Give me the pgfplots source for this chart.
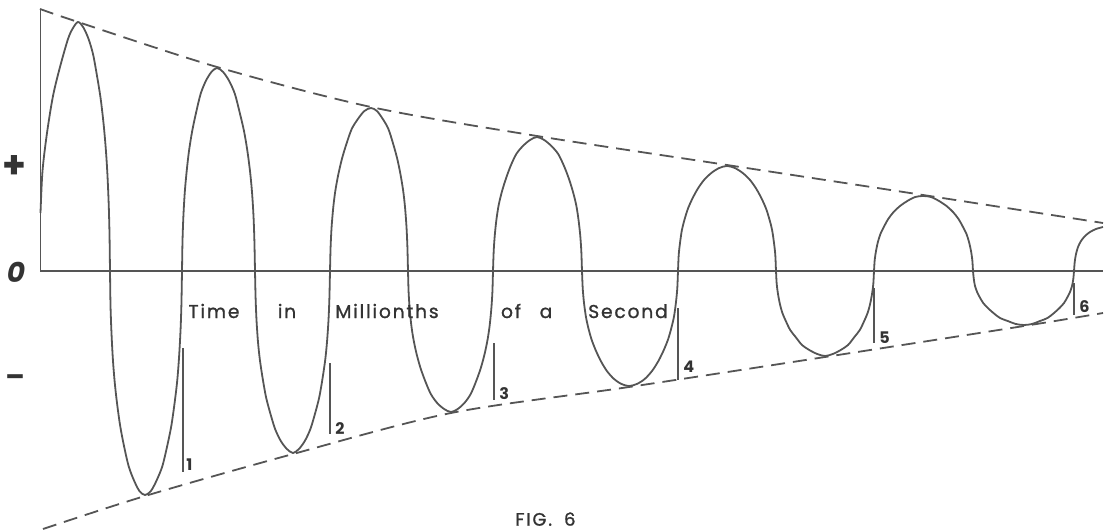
\documentclass[border=0pt]{standalone}
\usepackage{pgfplots}
\pgfplotsset{compat=1.18}
\usepackage{fontspec}
\setmainfont{Poppins}
\newfontfamily\lab[LetterSpace=10, FakeBold=1.2]{Poppins}
\definecolor{ink}{HTML}{555555}
\definecolor{txt}{HTML}{333333}

\begin{document}
\begin{tikzpicture}
\begin{axis}[
  scale only axis,
  width=559pt, height=265.5pt,
  xmin=0, xmax=1118, ymin=-260, ymax=271,
  hide axis, clip=false,
]
% axes
\addplot[ink, line width=0.9pt] coordinates {(40.5,262) (40.5,0) (1103,0)};

% envelopes
\addplot[ink, line width=0.9pt, dash pattern=on 7pt off 4pt, smooth] coordinates {
  (40,262) (78,249) (217,204) (371,164) (537,135) (727,106) (923,76) (1103,48)
};
\addplot[ink, line width=0.9pt, dash pattern=on 7pt off 4pt, smooth] coordinates {
  (43,-258) (145,-225) (293,-183) (451,-142) (629,-116) (825,-86) (1024,-55) (1103,-42)
};

% the damped wave
\addplot[ink, line width=0.9pt, smooth, tension=0.5] coordinates {
  (40.5,58) (42.5,100) (47,138) (53,175) (60,204) (68,232) (73,243) (78,249)
  (83.1,244) (88.2,233) (93,217) (97.2,194) (100.7,172) (103.6,147) (105.8,122) (107.4,97) (108.7,67) (109.5,37) (110,0)
  (110.5,-34) (111.4,-60) (112.8,-87) (114.6,-110) (117,-132) (120.2,-155) (124,-175) (128.6,-195) (133.8,-209) (139.4,-220) (145,-224)
  (150.9,-220) (156.8,-209) (162.4,-195) (167.2,-175) (171.3,-155) (174.6,-132) (177.2,-110) (179,-87) (180.5,-60) (181.4,-34) (182,0)
  (182.5,30) (183.4,55) (184.8,79) (186.6,99) (189,120) (192.2,140) (196,158) (200.6,177) (205.8,190) (211.4,199) (217,203)
  (223.1,199) (229.2,190) (234.9,177) (239.8,158) (244,140) (247.4,120) (250.1,99) (252,79) (253.5,55) (254.4,30) (255,0)
  (255.6,-27) (256.5,-49) (258,-71) (259.9,-89) (262.6,-107) (266,-126) (270.2,-142) (275.1,-158) (280.8,-170) (286.9,-178) (293,-182)
  (298.9,-178) (304.8,-170) (310.4,-158) (315.2,-142) (319.3,-126) (322.6,-107) (325.2,-89) (327,-71) (328.5,-49) (329.4,-27) (330,0)
  (330.6,24) (331.6,44) (333.3,64) (335.3,80) (338.2,96) (341.9,112) (346.4,127) (351.7,142) (357.9,152) (364.4,160) (371,163)
  (376.9,160) (382.8,152) (388.4,142) (393.2,127) (397.3,112) (400.6,96) (403.2,80) (405,64) (406.5,44) (407.4,24) (408,0)
  (408.6,-21) (409.7,-38) (411.4,-55) (413.6,-69) (416.6,-83) (420.5,-97) (425.2,-110) (430.8,-123) (437.2,-132) (444.1,-138) (451,-141)
  (457.7,-138) (464.4,-132) (470.7,-123) (476.2,-110) (480.8,-97) (484.6,-83) (487.5,-69) (489.6,-55) (491.3,-38) (492.4,-21) (493,0)
  (493.7,20) (494.8,36) (496.5,52) (498.7,66) (501.8,79) (505.8,92) (510.6,105) (516.3,117) (522.9,125) (530,131) (537,134)
  (544.2,131) (551.4,125) (558.2,117) (564,105) (569,92) (573,79) (576.2,66) (578.4,52) (580.2,36) (581.3,20) (582,0)
  (582.7,-17) (583.9,-31) (585.8,-45) (588.1,-56) (591.4,-68) (595.6,-79) (600.8,-90) (606.9,-100) (614,-108) (621.5,-113) (629,-115)
  (636.8,-113) (644.7,-108) (652,-100) (658.4,-90) (663.8,-79) (668.2,-68) (671.6,-56) (674.1,-45) (676,-31) (677.3,-17) (678,0)
  (678.7,16) (680,28) (681.9,41) (684.4,51) (687.8,62) (692.2,72) (697.6,82) (704,91) (711.3,98) (719.2,103) (727,105)
  (734.8,103) (742.7,98) (750,91) (756.4,82) (761.8,72) (766.2,62) (769.6,51) (772.1,41) (774,28) (775.3,16) (776,0)
  (776.7,-13) (778,-23) (779.9,-33) (782.4,-42) (785.8,-50) (790.2,-59) (795.6,-66) (802,-74) (809.3,-79) (817.2,-83) (825,-85)
  (832.8,-83) (840.7,-79) (848,-74) (854.4,-66) (859.8,-59) (864.2,-50) (867.6,-42) (870.1,-33) (872,-23) (873.3,-13) (874,0)
  (874.7,11) (876,20) (877.9,29) (880.4,37) (883.8,44) (888.2,52) (893.6,59) (900,65) (907.3,70) (915.2,74) (923,75)
  (931,74) (939,70) (946.5,65) (953,59) (958.5,52) (963,44) (966.5,37) (969,29) (971,20) (972.3,11) (973,0)
  (973.8,-8) (975,-15) (977.1,-21) (979.6,-26) (983.2,-32) (987.8,-37) (993.4,-42) (1000,-47) (1007.7,-50) (1015.8,-53) (1024,-54)
  (1032,-53) (1040,-50) (1047.5,-47) (1054,-42) (1059.5,-37) (1064,-32) (1067.5,-26) (1070,-21) (1072,-15) (1073.3,-8) (1074,0)
  (1074.7,9) (1076,17) (1078,24) (1081,30) (1085,35) (1090,39) (1096,42) (1103,44)
};

% microsecond markers
\addplot[ink, line width=0.9pt] coordinates {(183,-77) (183,-201)};
\addplot[ink, line width=0.9pt] coordinates {(330,-92) (330,-163)};
\addplot[ink, line width=0.9pt] coordinates {(494,-72) (494,-129)};
\addplot[ink, line width=0.9pt] coordinates {(678,-37) (678,-109)};
\addplot[ink, line width=0.9pt] coordinates {(874,-17) (874,-72)};
\addplot[ink, line width=0.9pt] coordinates {(1074,-12) (1074,-44)};

\begin{scope}[every node/.style={txt, font=\fontsize{8}{9}\selectfont\bfseries, anchor=south west, inner sep=0pt}]
\node at (186,-200) {1};
\node at (335,-164) {2};
\node at (499,-129) {3};
\node at (683,-102) {4};
\node at (879,-73) {5};
\node at (1079,-42) {6};
\end{scope}

\begin{scope}[every node/.style={txt, font=\fontsize{9.3}{11}\selectfont\lab, anchor=base, inner sep=0pt}]
\node at (214,-47) {Time};
\node at (287,-47) {in};
\node at (387,-47) {Millionths};
\node at (511,-47) {of};
\node at (546,-47) {a};
\node at (628,-47) {Second};
\node[anchor=north west, font=\fontsize{9}{10}\selectfont\lab] at (515,-241) {FIG.\hspace{6pt}6};
\end{scope}

\begin{scope}[every node/.style={txt, font=\fontsize{14}{15}\selectfont\bfseries, inner sep=0pt}]
\node[font=\fontsize{19}{20}\selectfont\bfseries] at (14,104) {+};
\node at (16,-1) {\itshape 0};
\node at (15,-110) {–};
\end{scope}
\end{axis}
\pgfresetboundingbox
\path[use as bounding box] (current axis.south west) rectangle (current axis.north east);
\end{tikzpicture}
\end{document}
